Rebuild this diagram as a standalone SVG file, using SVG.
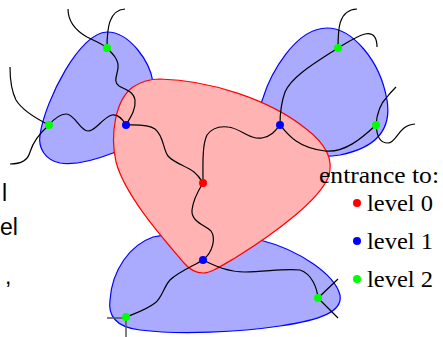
<svg xmlns="http://www.w3.org/2000/svg" width="443" height="337" viewBox="0 0 443 337">
<style>
.blob{fill:#aaaaff;stroke:#0000ff;stroke-width:1.2}
.core{fill:#ffb3b3;stroke:#ff0000;stroke-width:1.2}
.w{fill:none;stroke:#000;stroke-width:1.2}
.g{fill:none;stroke:#555;stroke-width:1.5}
.n0{fill:#ff0000}.n1{fill:#0000ff}.n2{fill:#00ff00}
.lg{font-family:"Liberation Serif","DejaVu Serif",serif;font-size:23px;fill:#000}
.cut{font-family:"Liberation Sans",Arial,sans-serif;font-size:23px;fill:#000}
</style>
<rect width="443" height="337" fill="#fff"/>
<g id="fragments">
<text class="cut" x="2" y="201">l</text>
<text class="cut" x="0" y="235">el</text>
<text class="cut" x="5" y="284">,</text>
</g>
<g id="region-left"><path class="blob" d="M107,32 C130,32 150,62 153,82 C158,110 140,145 113,153 C90,162 72,165 60,163 C45,160 38,148 40,135 C45,100 80,32 107,32 Z"/></g>
<g id="region-right"><path class="blob" d="M327,28 C352,28 380,60 387,100 C392,130 375,148 340,155 C310,160 285,150 265,135 C258,120 260,105 263,98 C270,75 295,28 327,28 Z"/></g>
<g id="region-bottom"><path class="blob" d="M153,237 C175,232 215,232 260,240 C300,250 335,275 340,295 C343,312 320,320 280,326 C240,332 180,335 140,330 C115,327 108,315 110,300 C112,270 130,245 153,237 Z"/></g>
<g id="region-core"><path class="core" d="M160,79 C210,80 270,100 305,128 C325,143 335,160 328,178 C318,200 280,230 235,258 C218,268 210,273 203,273 C196,273 190,270 184,263 C160,235 125,195 116,162 C110,135 115,100 133,87 C142,81 150,79 160,79 Z"/></g>
<g id="connectors">
<path class="w" d="M68,9 C68,25 80,33 87,37 C95,41 103,44 107,48"/>
<path class="w" d="M107,48 C107,28 109,10 125,9"/>
<path class="w" d="M107,48 C113,54 119,60 118,68 C117,76 113,82 119,86 C126,90 134,92 135,100 C136,110 130,118 126,125"/>
<path class="w" d="M49,125 C54,119 59,114 66,114 C75,114 80,131 88,131 C96,131 102,118 112,115 C119,114 123,120 126,125"/>
<path class="w" d="M49,125 C35,118 22,110 16,100 C11,90 10,80 10,67"/>
<path class="w" d="M49,125 C40,133 33,142 30,152 C28,160 22,164 10,164"/>
<path class="w" d="M126,125 C135,125 148,124 155,129 C164,136 163,150 168,156 C174,163 186,166 194,172 C199,176 201,180 203,183"/>
<path class="w" d="M203,183 C203,165 202,145 207,135 C212,128 220,126 228,127 C240,128 250,140 262,138 C272,136 276,130 280,125"/>
<path class="w" d="M203,183 C198,191 193,200 192,210 C191,222 205,225 211,231 C216,238 213,252 203,260"/>
<path class="w" d="M338,48 C338,30 338,10 357,9"/>
<path class="w" d="M338,48 C348,42 357,36 365,34 C375,32 377,40 377,47"/>
<path class="w" d="M338,48 C315,63 292,76 285,92 C281,103 280,115 280,125"/>
<path class="w" d="M280,125 C288,135 298,148 325,151 C345,153 362,138 376,125"/>
<path class="w" d="M376,125 C377,112 381,103 387,97 C391,92 394,89 396,87"/>
<path class="w" d="M376,125 C377,137 380,143 388,143 C397,143 398,125 415,124"/>
<path class="w" d="M203,260 C193,266 178,272 170,280 C163,288 162,298 155,303 C146,310 136,313 126,317"/>
<path class="w" d="M203,260 C215,266 228,272 245,272 C265,272 285,268 300,270 C312,274 317,288 318,298"/>
<path class="w" d="M318,298 L338,279 M318,298 L338,318"/>
<path class="g" d="M107,318 L126,318 L126,337"/>
</g>
<g id="nodes">
<circle class="n2" cx="107" cy="48" r="4"/>
<circle class="n2" cx="49" cy="125" r="4"/>
<circle class="n1" cx="126" cy="125" r="4"/>
<circle class="n0" cx="203" cy="183" r="4"/>
<circle class="n1" cx="280" cy="125" r="4"/>
<circle class="n2" cx="338" cy="48" r="4"/>
<circle class="n2" cx="376" cy="125" r="4"/>
<circle class="n1" cx="203" cy="260" r="4"/>
<circle class="n2" cx="126" cy="317" r="4"/>
<circle class="n2" cx="318" cy="298" r="4"/>
</g>
<g id="legend">
<text class="lg" x="319" y="183" textLength="120" lengthAdjust="spacingAndGlyphs">entrance to:</text>
<circle class="n0" cx="357" cy="203" r="4"/>
<text class="lg" x="367" y="211" textLength="66" lengthAdjust="spacingAndGlyphs">level 0</text>
<circle class="n1" cx="357" cy="241" r="4"/>
<text class="lg" x="367" y="249" textLength="66" lengthAdjust="spacingAndGlyphs">level 1</text>
<circle class="n2" cx="357" cy="279" r="4"/>
<text class="lg" x="367" y="287" textLength="66" lengthAdjust="spacingAndGlyphs">level 2</text>
</g>
</svg>
